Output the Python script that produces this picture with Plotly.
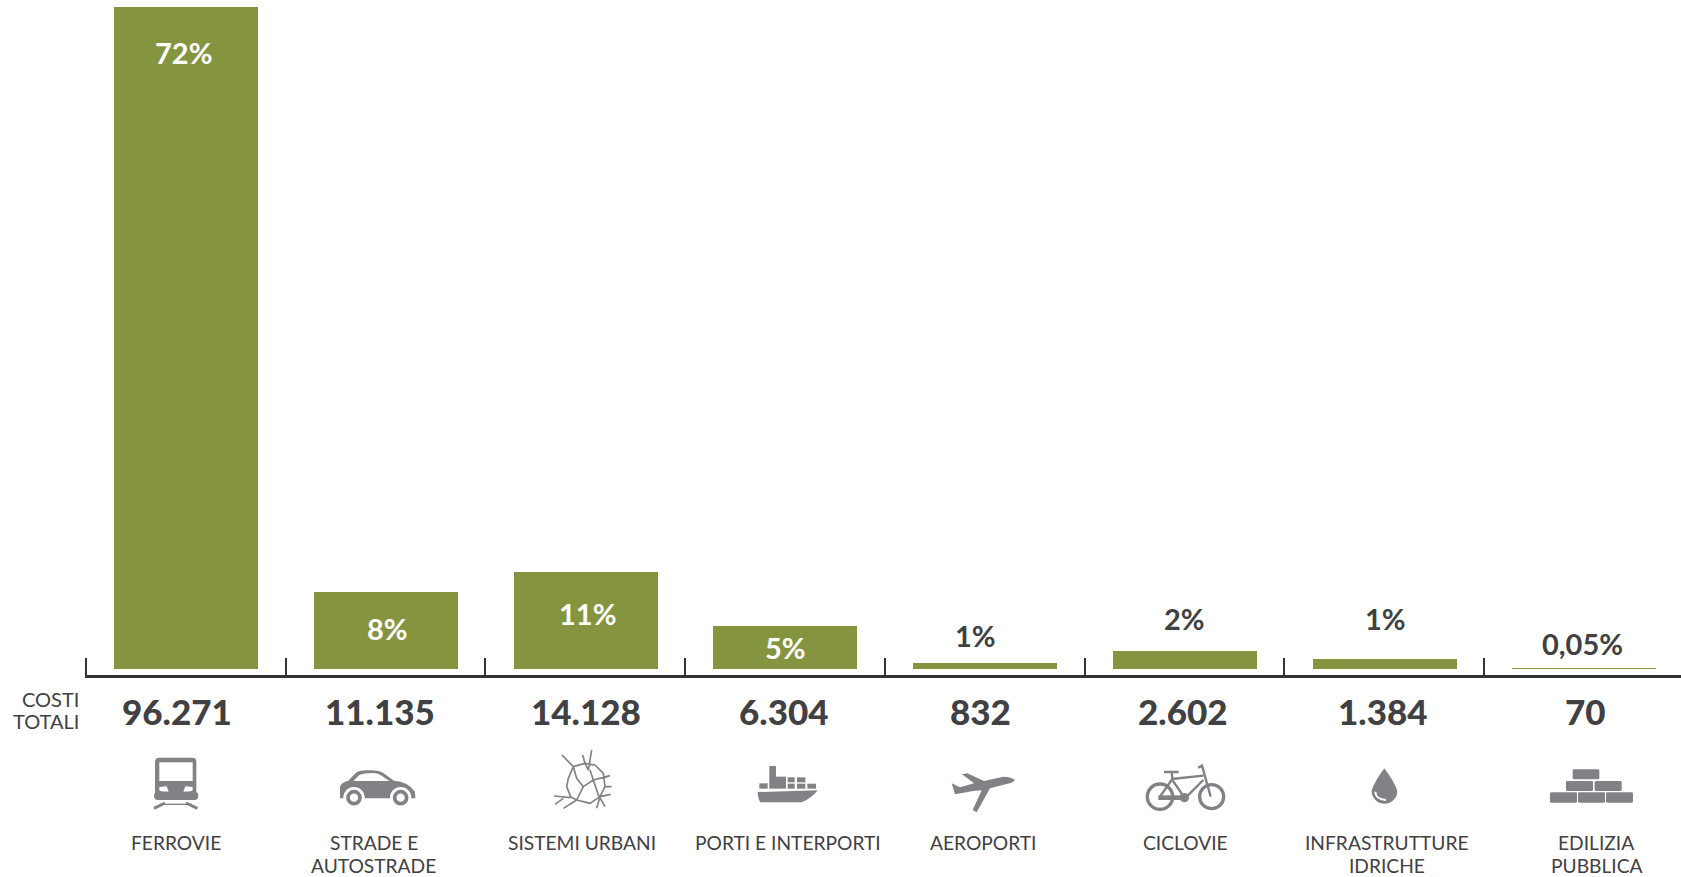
import base64
import plotly.graph_objects as go

categories = ["FERROVIE", "STRADE E<br>AUTOSTRADE", "SISTEMI URBANI", "PORTI E INTERPORTI",
              "AEROPORTI", "CICLOVIE", "INFRASTRUTTURE<br>IDRICHE", "EDILIZIA<br>PUBBLICA"]
costs = [96271, 11135, 14128, 6304, 832, 2602, 1384, 70]
cost_labels = ["96.271", "11.135", "14.128", "6.304", "832", "2.602", "1.384", "70"]
shares = ["72%", "8%", "11%", "5%", "1%", "2%", "1%", "0,05%"]

W, H = 1681, 877
GREEN = "#85953F"
DARK = "#414042"
GREY = "#808285"
FONT = "Lato, 'Open Sans', sans-serif"

X0, STEP = 185.7, 199.75       # pixel of bar 0, pixels per bar
Y0, PXU = 669.0, 662.0 / 96271  # pixel of value 0, pixels per unit
AX_LEFT, AX_Y = 84.7, 676.0

share_dx = [-2.5, 2.5, 2.5, 0.5, -9.5, 0.5, 1.5, -1.5]
share_y = [52.5, 628, 613, 647, 635.5, 618.5, 618.5, 643]
share_color = ["white", "white", "white", "white", DARK, DARK, DARK, DARK]
cost_dx = [-8.5, -5.5, 0.5, -0.5, -4.5, -1.5, -1.5, 1.5]
cat_dx = [-9.5, -11.5, -3.5, 3.5, -1.5, 1.5, 2.5, 12.5]

fig = go.Figure()
fig.add_bar(x=list(range(8)), y=costs, width=144 / STEP, marker=dict(color=GREEN, line_width=0),
            customdata=categories, hoverinfo="skip", showlegend=False)


def yp(px):
    return 1 - px / H


anns = []
for i in range(8):
    anns.append(dict(x=i, xref="x", xshift=share_dx[i], y=yp(share_y[i]), yref="paper", text=shares[i],
                     showarrow=False, xanchor="center", yanchor="middle",
                     font=dict(family=FONT, size=29, color=share_color[i], weight=700)))
    anns.append(dict(x=i, xref="x", xshift=cost_dx[i], y=yp(711), yref="paper", text=cost_labels[i],
                     showarrow=False, xanchor="center", yanchor="middle",
                     font=dict(family=FONT, size=35, color=DARK, weight=900)))
    for j, line in enumerate(categories[i].split("<br>")):
        anns.append(dict(x=i, xref="x", xshift=cat_dx[i], y=yp(842.5 + 22.5 * j), yref="paper", text=line,
                         showarrow=False, xanchor="center", yanchor="middle",
                         font=dict(family=FONT, size=19.2, color=DARK, weight=400)))
for j, line in enumerate(["COSTI", "TOTALI"]):
    anns.append(dict(x=81 / W, xref="paper", y=yp(699 + 21.5 * j), yref="paper", text=line, showarrow=False,
                     xanchor="right", yanchor="middle",
                     font=dict(family=FONT, size=20, color=DARK, weight=400)))

G = GREY


def svg(w, h, body):
    s = f'<svg xmlns="http://www.w3.org/2000/svg" width="{w*3}" height="{h*3}" viewBox="0 0 {w*3} {h*3}">{body}</svg>'
    return "data:image/svg+xml;base64," + base64.b64encode(s.encode()).decode()


train_car = f'''
<rect x="45" y="38" width="124" height="125" rx="12" fill="{G}"/>
<rect x="58" y="52" width="100" height="56" fill="white"/>
<path d="M58 126 L80 124 L86 140 Q66 142 58 136Z M158 126 L136 124 L130 140 Q150 142 158 136Z" fill="white"/>
<rect x="42" y="140" width="133" height="25" rx="12" fill="{G}"/>
<path d="M42 190 L75 174 M172 190 L138 174" stroke="{G}" stroke-width="9" fill="none"/>
<path d="M60 178 L155 178" stroke="{G}" stroke-width="4" fill="none"/>
<path d="M600 160 L600 125 Q604 112 625 107 L645 86 Q655 76 680 76 Q715 74 730 84 L762 107 Q805 110 825 140 L826 160Z" fill="{G}"/>
<path d="M640 108 L658 90 Q670 84 700 84 Q715 84 725 92 L748 108Z" fill="white"/>
<circle cx="642" cy="158" r="32" fill="white"/><circle cx="782" cy="158" r="32" fill="white"/>
<circle cx="642" cy="158" r="18" fill="white" stroke="{G}" stroke-width="11"/>
<circle cx="782" cy="158" r="18" fill="white" stroke="{G}" stroke-width="11"/>
'''

net = ('M66 30 L100 65 L85 100 L80 125 L92 155 L110 165 L130 125 L160 105 L210 92 '
       'M100 65 L135 55 L145 75 L155 15 M135 55 L128 30 M135 55 L165 60 L190 85 L195 125 L180 155 L150 175 L110 165 L70 190 '
       'M100 65 L110 100 L130 125 L160 105 L150 75 M160 105 L175 150 L195 185 M195 125 L215 125 '
       'M180 155 L170 190 M42 153 L92 158 M45 178 L70 160 M180 155 L212 148 M130 125 L110 165 M210 92 L185 100')
port_ship = f'''
<path d="{net}" stroke="{G}" stroke-width="5" fill="none" stroke-linejoin="round"/>
<rect x="688" y="63" width="20" height="68" fill="{G}"/><rect x="708" y="95" width="30" height="36" fill="{G}"/>
<rect x="658" y="115" width="25" height="16" fill="{G}"/>
<rect x="743" y="97" width="21" height="15" fill="{G}"/><rect x="771" y="97" width="25" height="15" fill="{G}"/>
<rect x="743" y="116" width="21" height="15" fill="{G}"/><rect x="771" y="116" width="25" height="15" fill="{G}"/>
<rect x="802" y="116" width="26" height="15" fill="{G}"/>
<path d="M653 141 L833 136 Q815 160 785 172 L662 172 Q654 165 653 141Z" fill="{G}"/>
'''

plane_bike = f'''
<path d="M225 75 Q215 66 190 65 L132 78 L82 55 L66 58 L102 85 L60 97 L35 85 L45 118 L100 108 L125 106 L98 165 L110 172 L150 100 L215 83Z" fill="{G}"/>
<circle cx="660" cy="125" r="38" fill="none" stroke="{G}" stroke-width="10"/>
<circle cx="815" cy="125" r="36" fill="none" stroke="{G}" stroke-width="10"/>
<path d="M785 28 L812 125 M695 72 L790 62 M695 72 L735 130 L790 75 M672 51 L716 51 M695 51 L697 72 M660 125 L697 72 M774 38 L788 32" stroke="{G}" stroke-width="7" fill="none"/>
<path d="M655 128 L735 128" stroke="{G}" stroke-width="14" fill="none"/>
<circle cx="733" cy="128" r="14" fill="{G}"/>
'''

drop_bricks = f'''
<path d="M73 40 Q40 85 35 108 A38 38 0 1 0 112 108 Q106 85 73 40Z" fill="{G}"/>
<path d="M46 110 Q46 132 78 135" stroke="white" stroke-width="6" fill="none"/>
'''
for x, y, w, h in [(638, 43, 80, 30), (618, 78, 81, 30), (704, 78, 81, 30),
                   (570, 112, 81, 31), (654, 112, 81, 31), (738, 112, 81, 31)]:
    drop_bricks += f'<rect x="{x}" y="{y}" width="{w}" height="{h}" rx="4" fill="{G}"/>'

images = []
for (cx, cy, cw, ch, body) in [(140, 745, 290, 75, train_car), (540, 745, 290, 75, port_ship),
                               (940, 755, 295, 65, plane_bike), (1360, 755, 290, 60, drop_bricks)]:
    images.append(dict(source=svg(cw, ch, body), xref="paper", yref="paper", x=cx / W, y=yp(cy),
                       sizex=cw / W, sizey=ch / H, xanchor="left", yanchor="top", sizing="stretch", layer="above"))

fig.update_layout(
    width=W, height=H, margin=dict(l=0, r=0, t=0, b=0, pad=0), autosize=False,
    paper_bgcolor="white", plot_bgcolor="white", showlegend=False, bargap=0,
    annotations=anns, images=images,
    xaxis=dict(domain=[AX_LEFT / W, 1], range=[(AX_LEFT - X0) / STEP, (W - X0) / STEP],
               anchor="free", position=yp(AX_Y), showgrid=False, zeroline=False,
               showline=True, linecolor="#333335", linewidth=2.5,
               tickmode="array", tickvals=[i - 0.5 for i in range(8)], ticktext=[""] * 8,
               ticks="inside", ticklen=17, tickwidth=2, tickcolor="#333335", fixedrange=True),
    yaxis=dict(domain=[0, 1], range=[-(H - Y0) / PXU, Y0 / PXU], visible=False, fixedrange=True),
)
fig.write_html("out.html", config={"displayModeBar": False},
               post_script="document.body.style.margin='0';document.body.style.overflow='hidden';")
